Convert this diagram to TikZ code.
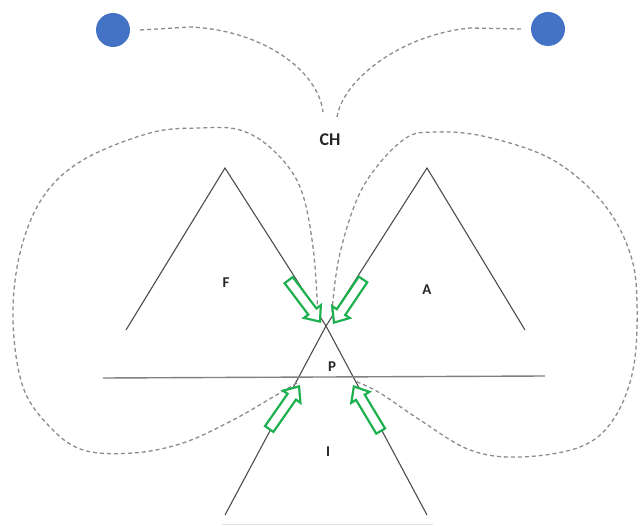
\documentclass[tikz,border=0pt]{standalone}
\usepackage{fontspec}
\setmainfont{Carlito}
\usetikzlibrary{shapes.arrows}
\definecolor{dotblue}{HTML}{4472C4}
\definecolor{pushgreen}{HTML}{1DB04F}
\tikzset{
  vtri/.style={line width=1.1pt,draw=black!70},
  vbase/.style={line width=1.4pt,draw=black!50},
  vloop/.style={line width=1.3pt,draw=gray!90,dash pattern=on 4pt off 3pt},
  vdot/.style={circle,fill=dotblue,minimum size=34bp,inner sep=0pt},
  vlbl/.style={font=\fontsize{15}{15}\selectfont\bfseries,text=black!85,inner sep=1pt},
  vpush/.style={single arrow,draw=pushgreen,fill=white,line width=2.2pt,minimum height=52bp,
     inner sep=4bp,single arrow head extend=5.5bp,single arrow tip angle=80,anchor=tip}
}
\begin{document}
\begin{tikzpicture}[x=1bp,y=-1bp]
  \useasboundingbox (0,0) rectangle (641,526);
  \node[vdot] (dl) at (113,30) {};
  \node[vdot] (dr) at (548,29) {};
  \node[vlbl,font=\fontsize{18}{18}\selectfont\bfseries] (ch) at (330,140) {CH};
  \coordinate (xc) at (326,326);
  \draw[vtri] (126,330) -- (225,168) -- (xc);
  \draw[vtri] (525,330) -- (427,168) -- (xc);
  \draw[vtri] (xc) -- (225,515); \draw[vtri] (xc) -- (427,515);
  \draw[vbase] (103,378) -- (545,376);
  \draw[gray!25,line width=1pt] (222,524) -- (433,524);
  \node[vlbl] (f) at (226,283) {F};
  \node[vlbl] (a) at (427,290) {A};
  \node[vlbl] (p) at (332,367) {P};
  \node[vlbl] (i) at (328,452) {I};
  \draw[vloop] ([xshift=10bp]dl.east) -- (190,27) .. controls (262,30) and (318,70) .. (323,112);
  \draw[vloop] (337,117) .. controls (343,80) and (400,35) .. (470,28) -- ([xshift=-10bp]dr.west);
  \draw[vloop] plot[smooth,tension=0.6] coordinates {(297,383) (273,397) (233,420) (183,443) (133,453)
     (83,450) (50,427) (23,387) (13,320) (20,253) (43,197) (83,160) (150,133) (200,128) (240,130)
     (273,150) (300,187) (313,247) (318,318)};
  \draw[vloop] plot[smooth,tension=0.6] coordinates {(332,312) (340,253) (363,187) (403,140) (437,132)
     (487,137) (553,160) (603,203) (630,253) (637,303) (633,370) (613,420) (580,447) (520,457)
     (470,450) (420,420) (380,393) (355,381)};
  \node[vpush,rotate=-53] (pfl) at (321,323) {};
  \node[vpush,rotate=-124] (pfr) at (333,324) {};
  \node[vpush,rotate=55] (pil) at (300,385) {};
  \node[vpush,rotate=121] (pir) at (353,385) {};
\end{tikzpicture}
\end{document}
